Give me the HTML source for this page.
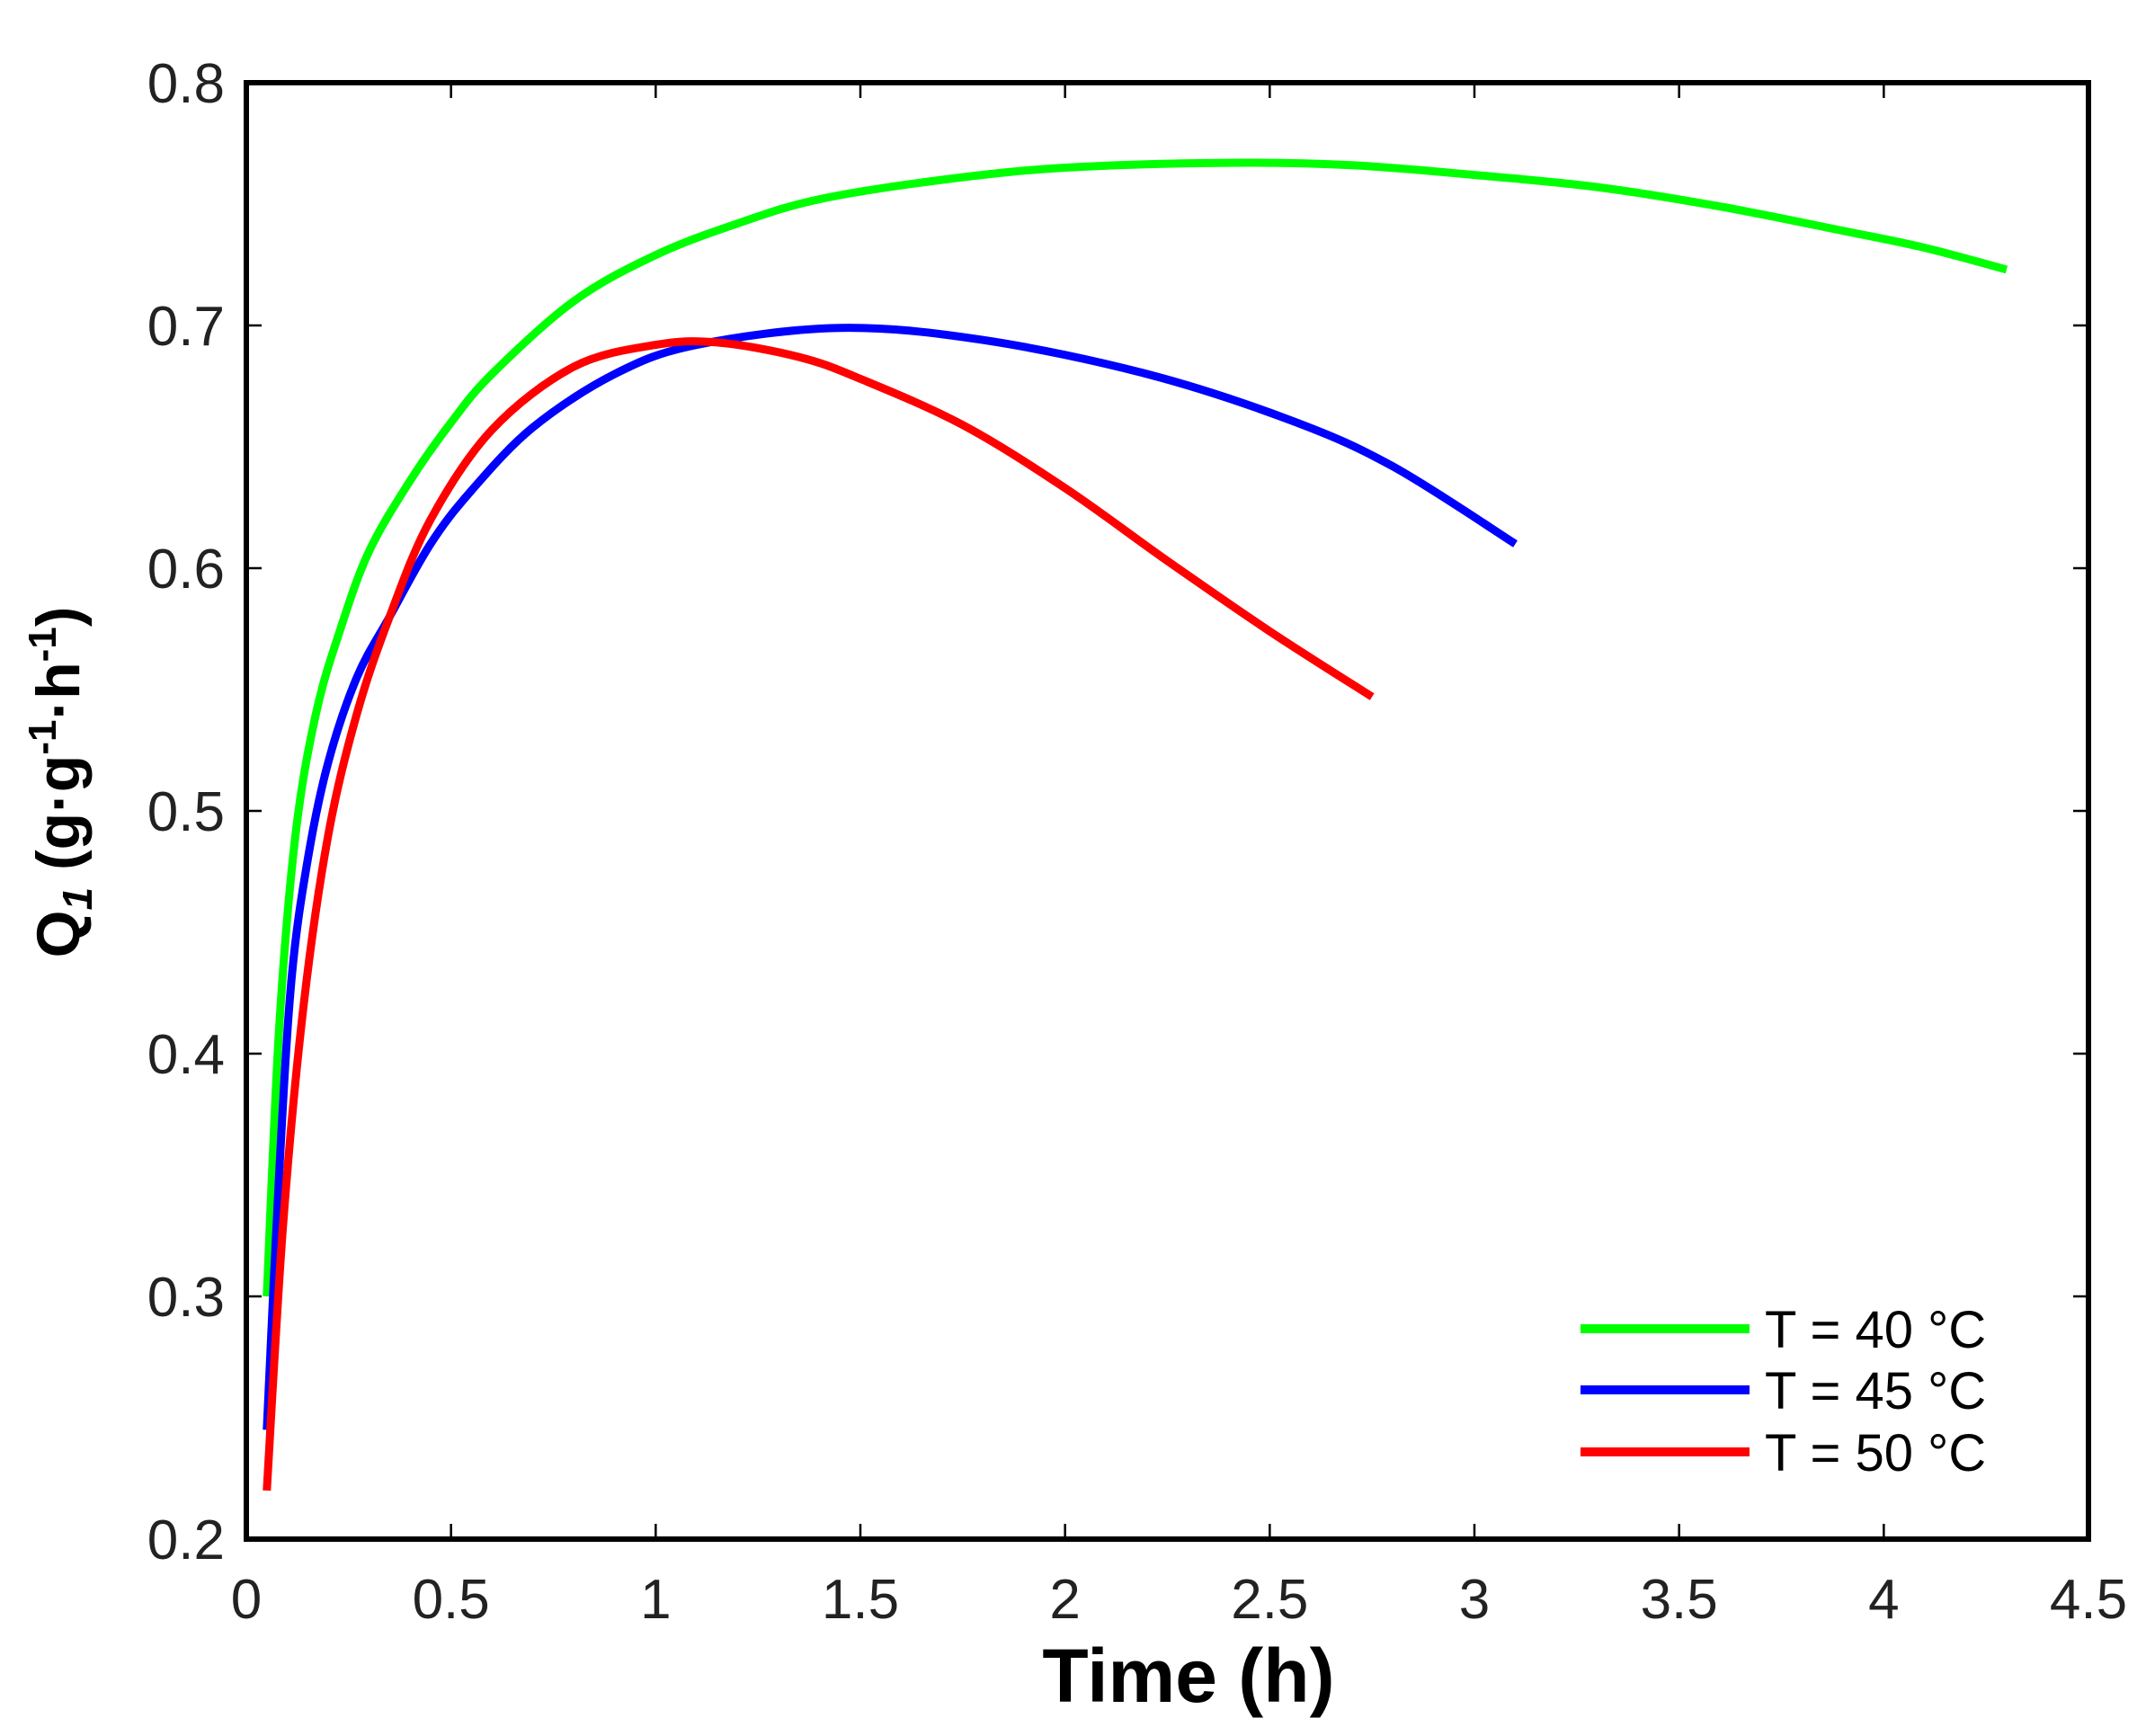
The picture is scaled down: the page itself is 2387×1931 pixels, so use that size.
<!DOCTYPE html>
<html><head><meta charset="utf-8"><style>
html,body{margin:0;padding:0;background:#fff;}
svg{display:block;}
text{font-family:"Liberation Sans",sans-serif;}
</style></head><body>
<svg id="s" width="2387" height="1931" viewBox="0 0 2387 1931" xmlns="http://www.w3.org/2000/svg">
<rect width="2387" height="1931" fill="#fff"/>
<g id="ticks" stroke="#000" stroke-width="2.5"></g>
<g id="curves" fill="none" stroke-width="9" stroke-linejoin="round" stroke-linecap="butt"></g>
<rect x="274" y="92" width="2049" height="1620" fill="none" stroke="#000" stroke-width="6"/>
<g id="labels" font-size="62" fill="#222"></g>
<text x="1322" y="1893" font-size="84" font-weight="bold" text-anchor="middle" fill="#000">Time (h)</text>
<text transform="translate(88,870) rotate(-90)" font-size="68" font-weight="bold" text-anchor="middle" fill="#000">Q<tspan font-size="46" font-style="italic" dy="14">1</tspan><tspan dy="-14"> (g·g</tspan><tspan font-size="44" dy="-26">-1</tspan><tspan dy="26">·h</tspan><tspan font-size="44" dy="-26">-1</tspan><tspan dy="26">)</tspan></text>
<g stroke-width="10">
<line x1="1758" y1="1478" x2="1946" y2="1478" stroke="#00ff00"/>
<line x1="1758" y1="1546" x2="1946" y2="1546" stroke="#0000ff"/>
<line x1="1758" y1="1615" x2="1946" y2="1615" stroke="#ff0000"/>
</g>
<g font-size="58" fill="#000">
<text x="1963" y="1499">T = 40 °C</text>
<text x="1963" y="1567">T = 45 °C</text>
<text x="1963" y="1636">T = 50 °C</text>
</g>
</svg>
<script>
var L=274,R=2323,T=92,B=1712;
function px(x){return L+x*(R-L)/4.5;}
function py(y){return B-(y-0.2)*(B-T)/0.6;}
var ns="http://www.w3.org/2000/svg";
var tk=document.getElementById('ticks'),lb=document.getElementById('labels');
function el(p,tag,a,t){var e=document.createElementNS(ns,tag);for(var k in a)e.setAttribute(k,a[k]);if(t)e.textContent=t;p.appendChild(e);}
for(var i=0;i<=9;i++){var x=px(i*0.5);
 if(i>0&&i<9){el(tk,'line',{x1:x,y1:B,x2:x,y2:B-17});el(tk,'line',{x1:x,y1:T,x2:x,y2:T+17});}
 el(lb,'text',{x:x,y:1800,'text-anchor':'middle'},String(i*0.5));}
for(var j=0;j<=6;j++){var v=0.2+j*0.1,y=py(v);
 if(j>0&&j<6){el(tk,'line',{x1:L,y1:y,x2:L+17,y2:y});el(tk,'line',{x1:R,y1:y,x2:R-17,y2:y});}
 el(lb,'text',{x:250,y:y+22,'text-anchor':'end'},v.toFixed(1));}
var data={
'#00ff00':[[0.05,0.30],[0.08,0.41],[0.12,0.49],[0.17,0.54],[0.23,0.575],[0.3,0.607],[0.4,0.636],[0.5,0.66],[0.6,0.68],[0.8,0.71],[1.0,0.729],[1.2,0.742],[1.4,0.752],[1.7,0.760],[2.0,0.765],[2.4,0.767],[2.7,0.766],[3.0,0.762],[3.3,0.757],[3.6,0.749],[3.9,0.739],[4.1,0.732],[4.3,0.723]],
'#0000ff':[[0.05,0.245],[0.08,0.35],[0.11,0.43],[0.15,0.48],[0.2,0.52],[0.27,0.555],[0.35,0.58],[0.45,0.61],[0.55,0.632],[0.7,0.658],[0.9,0.68],[1.1,0.692],[1.45,0.699],[1.8,0.694],[2.2,0.68],[2.55,0.661],[2.8,0.642],[3.1,0.61]],
'#ff0000':[[0.05,0.22],[0.09,0.33],[0.14,0.42],[0.2,0.49],[0.27,0.54],[0.35,0.58],[0.45,0.62],[0.6,0.657],[0.8,0.683],[1.0,0.692],[1.15,0.693],[1.35,0.687],[1.5,0.678],[1.75,0.659],[2.0,0.633],[2.25,0.603],[2.5,0.574],[2.75,0.547]]};
var cg=document.getElementById('curves');
for(var c in data){var p=data[c],d='M'+px(p[0][0])+','+py(p[0][1]);
 for(var k=0;k<p.length-1;k++){var p0=p[Math.max(k-1,0)],p1=p[k],p2=p[k+1],p3=p[Math.min(k+2,p.length-1)];
  var c1x=px(p1[0])+(px(p2[0])-px(p0[0]))/6,c1y=py(p1[1])+(py(p2[1])-py(p0[1]))/6;
  var c2x=px(p2[0])-(px(p3[0])-px(p1[0]))/6,c2y=py(p2[1])-(py(p3[1])-py(p1[1]))/6;
  d+=' C'+c1x+','+c1y+' '+c2x+','+c2y+' '+px(p2[0])+','+py(p2[1]);}
 el(cg,'path',{d:d,stroke:c});}
</script>
</body></html>
